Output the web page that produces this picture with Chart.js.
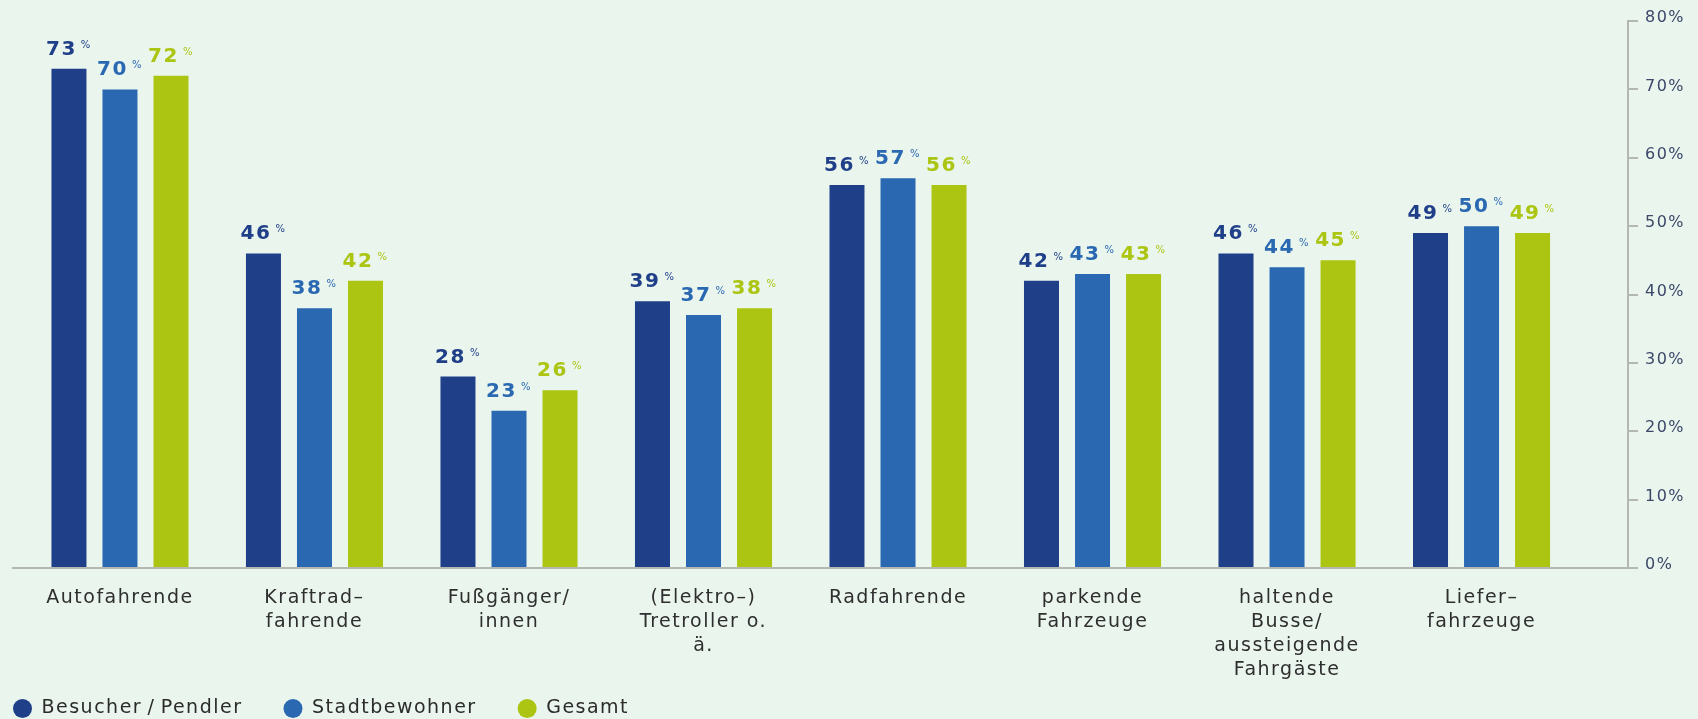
<!DOCTYPE html>
<html><head><meta charset="utf-8">
<script src="https://cdn.jsdelivr.net/npm/chart.js@4"></script>
<style>html,body{margin:0;padding:0;background:#eaf5ee;overflow:hidden}#wrap{width:1698px;height:719px;position:relative}</style>
</head><body><div id="wrap"><canvas id="c" width="1698" height="719"></canvas></div>
<script>
const categories = [["Autofahrende"],["Kraftrad–","fahrende"],["Fußgänger/","innen"],["(Elektro–)","Tretroller o.","ä."],["Radfahrende"],["parkende","Fahrzeuge"],["haltende","Busse/","aussteigende","Fahrgäste"],["Liefer–","fahrzeuge"]];
const seriesNames = ["Besucher\u2009/\u2009Pendler","Stadtbewohner","Gesamt"];
const besucher = [73,46,28,39,56,42,46,49];
const stadtbewohner = [70,38,23,37,57,43,44,50];
const gesamt = [72,42,26,38,56,43,45,49];
const yTicks = [0,10,20,30,40,50,60,70,80];
const barColors = ['#1f3f88','#2a69b1','#abc512'];
const labelColors = ['#1f3f88','#2a69b1','#abc512'];
const FONT = '"DejaVu Sans"';
const SPACING = '1.5px';

const seriesValues = [besucher, stadtbewohner, gesamt];

const spacingPlugin = {
  id: 'spacing',
  beforeLayout(chart){ chart.ctx.letterSpacing = SPACING; },
  beforeDraw(chart){ chart.ctx.letterSpacing = SPACING; },
  afterLayout(chart){
    const lg = chart.legend;
    lg.left -= 41; lg.right -= 41;
    lg.top -= 25; lg.bottom -= 25;
  }
};

const valueLabels = {
  id: 'valueLabels',
  afterDatasetsDraw(chart){
    const ctx = chart.ctx;
    chart.data.datasets.forEach((ds, di) => {
      const meta = chart.getDatasetMeta(di);
      meta.data.forEach((bar, i) => {
        const num = String(seriesValues[di][i]);
        ctx.save();
        ctx.letterSpacing = '1.5px';
        ctx.font = 'bold 20px ' + FONT;
        const wn = ctx.measureText(num).width;
        ctx.font = '10px ' + FONT;
        const wp = ctx.measureText('%').width;
        const gap = 4;
        const x0 = bar.x - (wn + gap + wp) / 2;
        const base = bar.y - 14;
        ctx.fillStyle = labelColors[di];
        ctx.textAlign = 'left';
        ctx.textBaseline = 'alphabetic';
        ctx.font = 'bold 20px ' + FONT;
        ctx.fillText(num, x0, base);
        ctx.font = '10px ' + FONT;
        ctx.fillText('%', x0 + wn + gap, base - 7);
        ctx.restore();
      });
    });
  }
};

const datasets = seriesNames.map((name, di) => ({
  label: name,
  data: seriesValues[di].map((v, i) => ({x: i, y: v})),
  backgroundColor: barColors[di],
  borderWidth: 0,
  barPercentage: 0.686,
  categoryPercentage: 0.787
}));

new Chart(document.getElementById('c'), {
  type: 'bar',
  data: { datasets },
  plugins: [spacingPlugin, valueLabels],
  options: {
    responsive: false,
    devicePixelRatio: 1,
    animation: false,
    layout: { padding: { left: 13, top: 21, right: 0, bottom: -34 } },
    plugins: {
      tooltip: { enabled: false },
      legend: {
        position: 'bottom',
        align: 'start',
        labels: {
          usePointStyle: true,
          pointStyle: 'circle',
          pointStyleWidth: 19,
          boxWidth: 19,
          boxHeight: 13.4,
          padding: 41,
          color: '#2b2b2b',
          font: { family: FONT, size: 19 }
        }
      }
    },
    scales: {
      x: {
        type: 'linear',
        min: -0.55,
        max: 7.753,
        offset: false,
        grid: { display: false },
        border: { display: true, color: '#b4b8b1', width: 2 },
        afterBuildTicks: s => { s.ticks = categories.map((_, i) => ({ value: i })); },
        afterFit: s => { s.height = 115; },
        ticks: {
          autoSkip: false,
          maxRotation: 0,
          padding: 10,
          color: '#2e2e2e',
          font: { family: FONT, size: 19, lineHeight: 1.26 },
          callback: v => categories[v]
        }
      },
      y: {
        position: 'right',
        min: 0,
        max: 80,
        afterBuildTicks: s => { s.ticks = yTicks.map(v => ({ value: v })); },
        afterFit: s => { s.width = 70; },
        grid: { drawOnChartArea: false, drawTicks: true, tickLength: 10, color: '#b4b8b1', lineWidth: 2 },
        border: { display: true, color: '#b4b8b1', width: 2 },
        ticks: {
          padding: 7,
          labelOffset: -3,
          color: '#3b4868',
          font: { family: FONT, size: 16 },
          callback: v => v + '%'
        }
      }
    }
  }
});
</script>
</body></html>
